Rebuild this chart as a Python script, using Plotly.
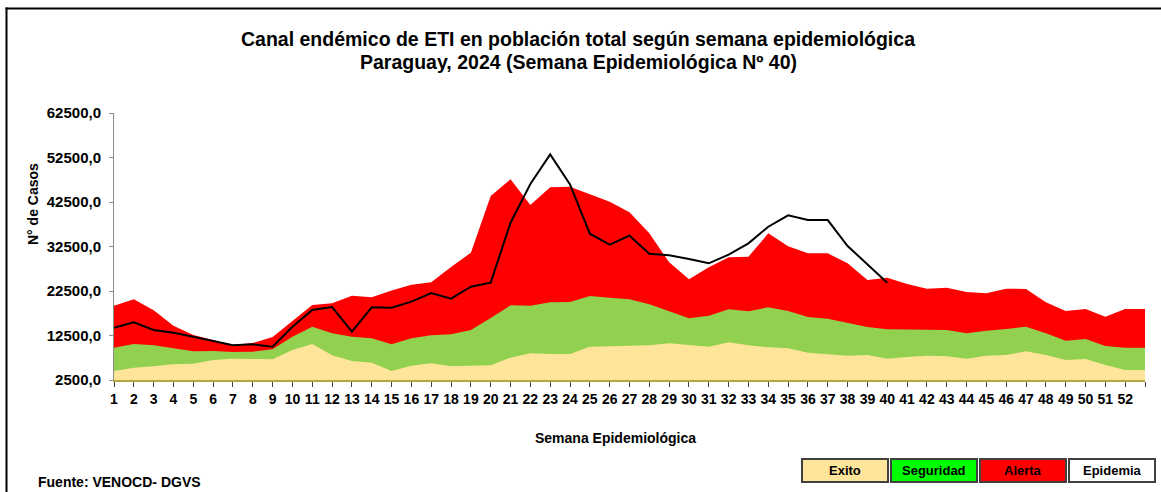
import plotly.graph_objects as go

# ---- data ----
semanas = list(range(1, 54))
etiquetas = [str(s) for s in range(1, 53)] + [""]

exito = [4500, 5270, 5570, 6020, 6170, 7000, 7300, 7150, 7150, 9240,
         10590, 8040, 6770, 6400, 4520, 5720, 6250, 5570, 5650, 5800,
         7520, 8490, 8340, 8340, 9990, 10140, 10140, 10290, 10740, 10290,
         9990, 10960, 10290, 9840, 9620, 8640, 8340, 7970, 8120, 7290,
         7670, 7970, 7820, 7290, 7970, 8120, 8940, 8120, 6990, 7220,
         5870, 4750, 4750]

seguridad = [9770, 10590, 10290, 9620, 8940, 9020, 8790, 8870, 9390, 12240,
             14480, 12990, 12240, 11860, 10550, 11860, 12540, 12760, 13740, 16430,
             19280, 19200, 19950, 20030, 21370, 21000, 20630, 19500, 17850, 16360,
             16960, 18380, 17930, 18830, 18000, 16660, 16280, 15380, 14410, 13880,
             13880, 13880, 13740, 12990, 13590, 13960, 14480, 12990, 11340, 11710,
             10140, 9770, 9770]

alerta = [19200, 20630, 18150, 14710, 12610, 11490, 10360, 10810, 12160, 15760,
          19350, 19730, 21450, 21080, 22600, 23920, 24450, 27890, 31110, 43840,
          47590, 41820, 45790, 45940, 44290, 42570, 40170, 35460, 28940, 25120,
          27820, 30060, 30210, 35460, 32530, 30960, 30960, 28720, 24970, 25490,
          24070, 23020, 23250, 22270, 21970, 23020, 22950, 19950, 18000, 18450,
          16730, 18450, 18450]

epidemia = [14260, 15460, 13740, 13140, 12240, 11340, 10290, 10510, 9990, 14480,
            18230, 18900, 13360, 18830, 18720, 20100, 22050, 20780, 23470, 24370,
            37850, 46540, 53210, 46460, 35380, 32910, 34930, 30890, 30510, 29690,
            28720, 30660, 33210, 36950, 39500, 38450, 38450, 32610, 28410, 24370]

y_ticks = [2500, 12500, 22500, 32500, 42500, 52500, 62500]
y_labels = ["2500,0", "12500,0", "22500,0", "32500,0", "42500,0", "52500,0", "62500,0"]

leyenda = ["Exito", "Seguridad", "Alerta", "Epidemia"]
leyenda_colores = ["#FFE599", "#00FF00", "#FF0000", "#FFFFFF"]

# ---- layout geometry ----
W, H = 1161, 492
L, R, T, B = 114, 16, 113, 112
PW, PH = W - L - R, H - T - B

def px(xp):
    return (xp - L) / PW

def py(yp):
    return (H - B - yp) / PH

FONT = "Liberation Sans, Arial, sans-serif"

fig = go.Figure()
fig.add_trace(go.Scatter(x=semanas, y=alerta, mode="lines", line=dict(width=0, color="#FF0000"),
                         fill="tozeroy", fillcolor="#FF0000", name="Alerta", hoverinfo="skip"))
fig.add_trace(go.Scatter(x=semanas, y=seguridad, mode="lines", line=dict(width=0, color="#92D050"),
                         fill="tozeroy", fillcolor="#92D050", name="Seguridad", hoverinfo="skip"))
fig.add_trace(go.Scatter(x=semanas, y=exito, mode="lines", line=dict(width=0, color="#FFE599"),
                         fill="tozeroy", fillcolor="#FFE599", name="Exito", hoverinfo="skip"))
fig.add_trace(go.Scatter(x=semanas[:len(epidemia)], y=epidemia, mode="lines",
                         line=dict(width=2, color="#000000"), name="Epidemia"))

fig.update_layout(
    width=W, height=H,
    margin=dict(l=L, r=R, t=T, b=B, autoexpand=False),
    paper_bgcolor="white", plot_bgcolor="white",
    showlegend=False,
    font=dict(family=FONT, color="#000000"),
)

fig.update_xaxes(
    range=[1, 53], tickmode="array", tickvals=semanas, ticktext=etiquetas,
    showgrid=False, zeroline=False, showline=True, linecolor="#B5A642", linewidth=2,
    ticks="outside", ticklen=5, tickcolor="#404040", tickwidth=1,
    tickfont=dict(family=FONT, size=14, weight="bold", color="#000000"),
    automargin=False,
)
fig.update_yaxes(
    range=[2500, 62500], tickmode="array", tickvals=y_ticks, ticktext=y_labels,
    showgrid=False, zeroline=False, showline=True, linecolor="#8C8C8C", linewidth=1,
    ticks="outside", ticklen=4, tickcolor="#8C8C8C", ticklabelstandoff=5,
    tickfont=dict(family=FONT, size=15, weight="bold", color="#000000"),
    automargin=False,
)

ann = []
ann.append(dict(x=px(578), y=py(39), xref="paper", yref="paper", showarrow=False,
                text="<b>Canal endémico de ETI en población total según semana epidemiológica</b>",
                font=dict(family=FONT, size=19.5), xanchor="center", yanchor="middle"))
ann.append(dict(x=px(578), y=py(62), xref="paper", yref="paper", showarrow=False,
                text="<b>Paraguay, 2024 (Semana Epidemiológica Nº 40)</b>",
                font=dict(family=FONT, size=19.5), xanchor="center", yanchor="middle"))
ann.append(dict(x=px(33), y=py(204), xref="paper", yref="paper", showarrow=False,
                text="<b>N° de Casos</b>", textangle=-90,
                font=dict(family=FONT, size=14), xanchor="center", yanchor="middle"))
ann.append(dict(x=px(615), y=py(438), xref="paper", yref="paper", showarrow=False,
                text="<b>Semana Epidemiológica</b>",
                font=dict(family=FONT, size=14), xanchor="center", yanchor="middle"))
ann.append(dict(x=px(36), y=py(482), xref="paper", yref="paper", showarrow=False,
                text="<b>Fuente: VENOCD- DGVS</b>",
                font=dict(family=FONT, size=14), xanchor="left", yanchor="middle"))

shapes = []
# outer frame (top and left edges visible)
shapes.append(dict(type="line", xref="paper", yref="paper", x0=px(5.5), x1=px(1161), y0=py(8.5), y1=py(8.5),
                   line=dict(color="#000000", width=2)))
shapes.append(dict(type="line", xref="paper", yref="paper", x0=px(6.5), x1=px(6.5), y0=py(7.5), y1=py(492),
                   line=dict(color="#000000", width=2)))

box_x = [(802, 888), (891, 977), (980, 1066), (1069, 1155)]
for (x0, x1), name, col in zip(box_x, leyenda, leyenda_colores):
    shapes.append(dict(type="rect", xref="paper", yref="paper", x0=px(x0), x1=px(x1),
                       y0=py(459), y1=py(482), fillcolor=col, line=dict(color="#404040", width=2)))
    ann.append(dict(x=px((x0 + x1) / 2), y=py(470.5), xref="paper", yref="paper", showarrow=False,
                    text="<b>" + name + "</b>", font=dict(family=FONT, size=13, color="#000000"),
                    xanchor="center", yanchor="middle"))

fig.update_layout(annotations=ann, shapes=shapes)
fig.write_html("out.html", config={"displayModeBar": False},
               post_script="document.body.style.margin='0';document.body.style.overflow='hidden';")
